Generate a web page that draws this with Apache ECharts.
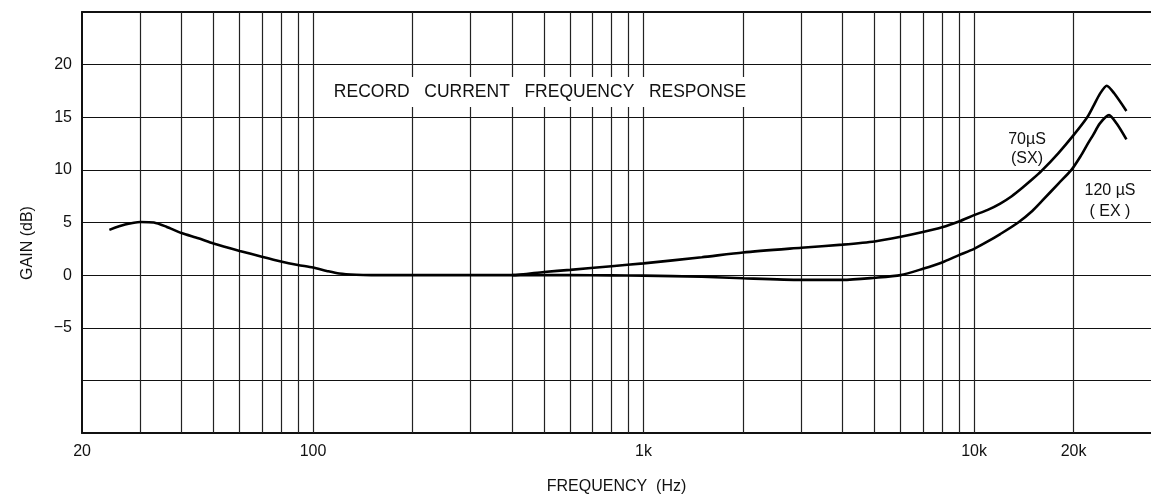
<!DOCTYPE html>
<html>
<head>
<meta charset="utf-8">
<script src="https://cdn.jsdelivr.net/npm/echarts@6/dist/echarts.min.js"></script>
<style>
  html, body { margin: 0; padding: 0; background: #fff; }
  #chart { width: 1151px; height: 499px; }
</style>
</head>
<body>
<div id="chart"></div>
<script>
// vertical grid lines (Hz)
var gridFreqs = [30, 40, 50, 60, 70, 80, 90, 100, 200, 300, 400, 500, 600, 700, 800, 900,
                 1000, 2000, 3000, 4000, 5000, 6000, 7000, 8000, 9000, 10000, 20000];
var labelFreqs = [20, 100, 1000, 10000, 20000];
var labelTexts = ['20', '100', '1k', '10k', '20k'];

// shared low frequency part
var lowFreq = [24.2, 27, 30, 33, 36, 40, 45, 50, 60, 70, 80, 90, 100, 110, 120, 135, 150, 200, 300];
var lowGain = [4.3, 4.8, 5.05, 5.0, 4.6, 4.0, 3.5, 3.0, 2.3, 1.75, 1.3, 0.97, 0.72, 0.4, 0.15, 0.03, 0, 0, 0];

// 70uS (SX)
var sxFreq = [400, 500, 600, 800, 1000, 1500, 2000, 3000, 4000, 5000, 6000, 7000, 8000, 9000,
              10000, 11000, 12000, 13000, 14000, 15000, 16000, 18000, 20000, 22000, 23000,
              24000, 25200, 26500, 28900];
var sxGain = [0, 0.3, 0.5, 0.85, 1.12, 1.7, 2.15, 2.6, 2.9, 3.2, 3.65, 4.1, 4.55, 5.1,
              5.7, 6.2, 6.8, 7.5, 8.3, 9.1, 9.9, 11.6, 13.3, 15.0, 16.1,
              17.2, 18.0, 17.3, 15.6];

// 120uS (EX)
var exFreq = [400, 600, 800, 1000, 1500, 2000, 3000, 4000, 5000, 6000, 7000, 8000, 9000,
              10000, 11000, 12000, 13600, 15000, 16000, 18000, 19700, 21000, 22000, 23000,
              24000, 25600, 27000, 28900];
var exGain = [0, 0, -0.02, -0.05, -0.15, -0.3, -0.45, -0.45, -0.25, 0, 0.6, 1.2, 1.9,
              2.5, 3.2, 3.9, 5.0, 6.1, 7.0, 8.7, 10.0, 11.3, 12.4, 13.4,
              14.4, 15.2, 14.4, 12.9];

var yShown = [-5, 0, 5, 10, 15, 20];

function pairs(xs, ys) {
  var out = [];
  for (var i = 0; i < xs.length; i++) out.push([xs[i], ys[i]]);
  return out;
}

var font = '"Liberation Sans", Arial, sans-serif';

function tickLabel(text) {
  return { show: true, position: 'start', distance: 11, formatter: text,
           color: '#111', fontSize: 16, fontFamily: font };
}

var lines = [];
for (var i = 0; i < gridFreqs.length; i++) {
  var item = { xAxis: gridFreqs[i], label: { show: false } };
  var k = labelFreqs.indexOf(gridFreqs[i]);
  if (k >= 0) item.label = tickLabel(labelTexts[k]);
  lines.push(item);
}
lines.push({ xAxis: 20.01, lineStyle: { color: 'rgba(0,0,0,0)' }, label: tickLabel(labelTexts[0]) });

var axisLineStyle = { color: '#111', width: 2 };

var chart = echarts.init(document.getElementById('chart'));
var option = {
  animation: false,
  backgroundColor: '#fff',
  grid: { left: 82, top: 12, right: 0, bottom: 66, outerBoundsMode: 'none', containLabel: false },
  xAxis: [
    {
      type: 'log',
      logBase: 10,
      min: 20,
      max: 34300,
      name: 'FREQUENCY  (Hz)',
      nameLocation: 'middle',
      nameGap: 46,
      nameTextStyle: { color: '#111', fontSize: 16, fontFamily: font },
      axisLine: { show: true, onZero: false, lineStyle: axisLineStyle },
      axisTick: { show: false },
      axisLabel: { show: false },
      splitLine: { show: false }
    },
    {
      type: 'log',
      logBase: 10,
      min: 20,
      max: 34300,
      position: 'top',
      axisLine: { show: true, onZero: false, lineStyle: axisLineStyle },
      axisTick: { show: false },
      axisLabel: { show: false },
      splitLine: { show: false }
    }
  ],
  yAxis: {
    type: 'value',
    min: -15,
    max: 25,
    interval: 5,
    axisLine: { show: true, onZero: false, lineStyle: axisLineStyle },
    axisTick: { show: false },
    axisLabel: {
      margin: 10, color: '#111', fontSize: 16, fontFamily: font,
      formatter: function (v) {
        if (yShown.indexOf(v) < 0) return '';
        return v < 0 ? '\u2212' + Math.abs(v) : String(v);
      }
    },
    splitLine: { show: true, lineStyle: { color: '#111', width: 1.2 } }
  },
  graphic: [
    {
      type: 'text', z: 100, x: 28, y: 243, rotation: Math.PI / 2,
      style: { text: 'GAIN (dB)', fill: '#111', font: '16px ' + font, align: 'center', verticalAlign: 'middle' }
    },
    {
      type: 'text', z: 100, x: 540, y: 92,
      style: {
        text: 'RECORD   CURRENT   FREQUENCY   RESPONSE', fill: '#111', font: '17.5px ' + font,
        align: 'center', verticalAlign: 'middle', backgroundColor: '#fff', padding: [6, 12]
      }
    },
    {
      type: 'text', z: 100, x: 1027, y: 149,
      style: { text: '70\u00b5S\n(SX)', fill: '#111', font: '16px ' + font, lineHeight: 19,
               align: 'center', verticalAlign: 'middle' }
    },
    {
      type: 'text', z: 100, x: 1110, y: 201,
      style: { text: '120 \u00b5S\n( EX )', fill: '#111', font: '16px ' + font, lineHeight: 21,
               align: 'center', verticalAlign: 'middle' }
    }
  ],
  series: [
    {
      name: '70uS (SX)',
      type: 'line',
      smooth: 0.25,
      symbol: 'none',
      lineStyle: { color: '#000', width: 2.6 },
      data: pairs(lowFreq.concat(sxFreq), lowGain.concat(sxGain)),
      markLine: {
        silent: true,
        symbol: ['none', 'none'],
        lineStyle: { color: '#222', width: 1.2, type: 'solid' },
        data: lines
      },
      z: 5
    },
    {
      name: '120uS (EX)',
      type: 'line',
      smooth: 0.25,
      symbol: 'none',
      lineStyle: { color: '#000', width: 2.6 },
      data: pairs(exFreq, exGain),
      z: 5
    }
  ]
};
chart.setOption(option);
</script>
</body>
</html>
